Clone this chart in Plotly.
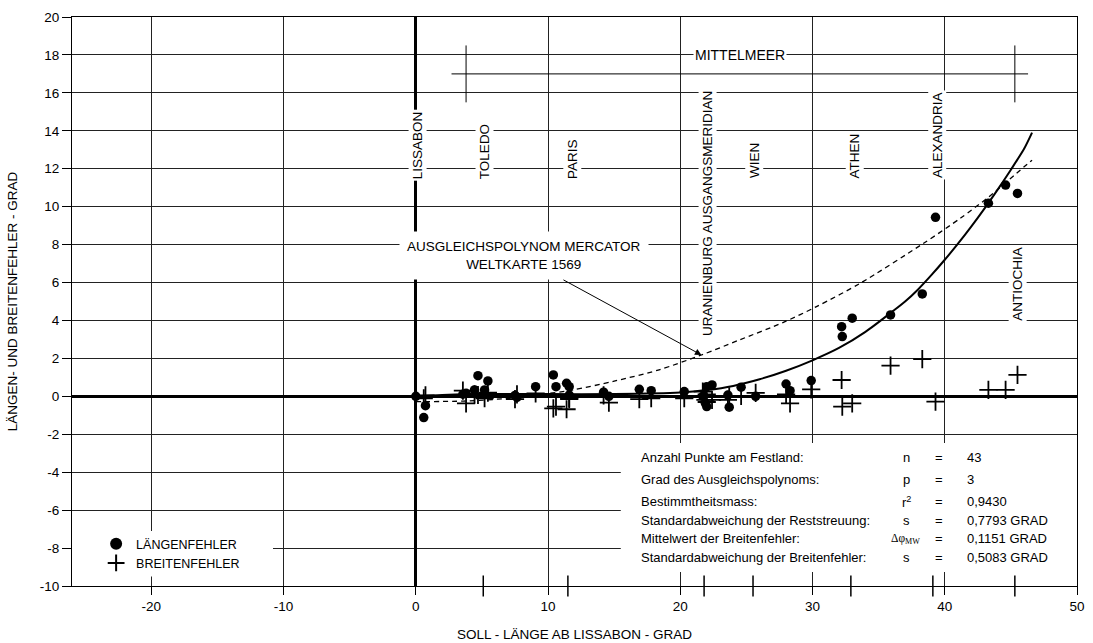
import plotly.graph_objects as go

# ---------------- data ----------------
soll_laenge = [0.0, 0.6, 0.73, 3.56, 3.8, 4.44, 4.7, 5.2, 5.45, 7.5, 7.65, 9.06,
               10.4, 10.6, 11.4, 11.6, 11.6, 14.2, 14.6, 16.9, 17.8, 20.3, 21.7,
               21.9, 22.0, 22.0, 22.4, 23.6, 23.7, 24.6, 25.7, 28.0, 28.3, 29.9,
               32.2, 32.25, 33.0, 35.9, 38.3, 39.3, 43.3, 44.6, 45.5]
laengenfehler = [0.0, -1.12, -0.49, 0.11, 0.16, 0.34, 1.09, 0.34, 0.81, 0.05, -0.05, 0.51,
                 1.13, 0.51, 0.69, 0.51, 0.07, 0.22, 0.0, 0.37, 0.30, 0.25, 0.0,
                 -0.37, -0.54, 0.51, 0.60, 0.07, -0.57, 0.48, 0.0, 0.65, 0.30, 0.83,
                 3.67, 3.15, 4.12, 4.29, 5.40, 9.44, 10.18, 11.14, 10.70]
breitenfehler = [0.0, -0.10, 0.05, 0.30, -0.37, 0.10, 0.07, -0.10, 0.20, -0.15, 0.10, 0.16,
                 -0.63, -0.54, -0.68, -0.15, -0.10, 0.05, -0.33, -0.15, -0.10, -0.10, 0.25,
                 -0.19, 0.10, -0.30, -0.19, -0.19, 0.0, 0.02, 0.18, 0.10, -0.37, 0.37,
                 0.86, -0.54, -0.37, 1.62, 1.96, -0.28, 0.34, 0.34, 1.13]

# fitted polynomial (solid) and Mercator polynomial (dashed)
fit_x = [0.0, 2.0, 5.0, 10.0, 15.0, 20.0, 22.0, 24.0, 26.0, 28.0, 30.0, 32.0, 34.0,
         36.0, 37.0, 38.0, 39.0, 40.0, 41.0, 42.0, 43.0, 44.0, 45.0, 46.0, 46.6]
fit_y = [0.0, 0.07, 0.12, 0.12, 0.12, 0.2, 0.33, 0.55, 0.9, 1.35, 1.9, 2.55, 3.4,
         4.45, 5.0, 5.65, 6.4, 7.2, 8.05, 8.95, 9.9, 10.9, 11.95, 13.05, 13.9]
merc_x = [0.0, 3.6, 7.1, 9.5, 11.9, 15.0, 18.4, 21.6, 24.5, 27.8, 30.3, 33.6,
          38.4, 41.2, 43.3, 46.0, 46.6]
merc_y = [-0.28, -0.25, -0.10, 0.10, 0.34, 0.80, 1.40, 2.18, 2.98, 3.9, 4.73, 5.96,
          8.07, 9.4, 10.5, 12.1, 12.45]

city_names = ["LISSABON", "TOLEDO", "PARIS", "URANIENBURG AUSGANGSMERIDIAN",
              "WIEN", "ATHEN", "ALEXANDRIA", "ANTIOCHIA"]
city_x = [0.0, 5.1, 11.5, 21.8, 25.5, 32.9, 39.1, 45.3]
city_label_x = [0.1, 5.2, 11.8, 22.1, 25.6, 33.2, 39.4, 45.5]
city_label_bottom = [11.35, 11.35, 11.35, 3.05, 11.4, 11.4, 11.4, 3.9]

med_label = "MITTELMEER"
med_span = [2.7, 46.3]
med_level = 17.0
med_ends = [3.8, 45.3]
med_end_range = [15.5, 18.5]

stat_labels = ["Anzahl Punkte am Festland:", "Grad des Ausgleichspolynoms:",
               "Bestimmtheitsmass:", "Standardabweichung der Reststreuung:",
               "Mittelwert der Breitenfehler:", "Standardabweichung der Breitenfehler:"]
stat_symbols = ["n", "p", "r<sup>2</sup>", "s", "Δφ<sub>MW</sub>", "s"]
stat_values = ["43", "3", "0,9430", "0,7793 GRAD", "0,1151 GRAD", "0,5083 GRAD"]
stat_rows_y = [-3.25, -4.36, -5.57, -6.57, -7.52, -8.52]

x_ticks = [-20, -10, 0, 10, 20, 30, 40, 50]
x_ticktext = ["-20", "-10", "0", "10", "20", "30", "40", "50"]
y_ticks = list(range(-10, 21, 2))
y_ticktext = [str(v) for v in y_ticks]

FONT = "Liberation Sans, Arial, sans-serif"

fig = go.Figure()

fig.add_trace(go.Scatter(x=fit_x, y=fit_y, mode="lines",
                         line=dict(color="black", width=2, shape="spline", smoothing=0.8),
                         showlegend=False, hoverinfo="skip"))
fig.add_trace(go.Scatter(x=merc_x, y=merc_y, mode="lines",
                         line=dict(color="black", width=1.3, dash="5px,4px", shape="spline", smoothing=0.8),
                         showlegend=False, hoverinfo="skip"))
fig.add_trace(go.Scatter(x=soll_laenge, y=breitenfehler, mode="markers", name="BREITENFEHLER",
                         marker=dict(symbol="cross-thin", size=13, line=dict(color="black", width=1.8),
                                     color="black")))
fig.add_trace(go.Scatter(x=soll_laenge, y=laengenfehler, mode="markers", name="LÄNGENFEHLER",
                         marker=dict(symbol="circle", size=9.5, color="black")))
# city ticks on the bottom axis
fig.add_trace(go.Scatter(x=city_x[1:], y=[-10] * (len(city_x) - 1), mode="markers",
                         marker=dict(symbol="line-ns", size=15, line=dict(color="black", width=1.5)),
                         showlegend=False, hoverinfo="skip", cliponaxis=False))

shapes = []
# white boxes behind legend and statistics
shapes.append(dict(type="rect", xref="x", yref="y", x0=-26, x1=-10.8, y0=-9.5, y1=-7.1,
                   fillcolor="white", line=dict(width=0), layer="between"))
shapes.append(dict(type="rect", xref="x", yref="y", x0=15.5, x1=50, y0=-9.26, y1=-2.46,
                   fillcolor="white", line=dict(width=0), layer="between"))
# Mittelmeer bracket
shapes.append(dict(type="line", xref="x", yref="y", x0=med_span[0], x1=med_span[1],
                   y0=med_level, y1=med_level, line=dict(color="black", width=1)))
for xe in med_ends:
    shapes.append(dict(type="line", xref="x", yref="y", x0=xe, x1=xe,
                       y0=med_end_range[0], y1=med_end_range[1], line=dict(color="black", width=1)))

ann = []
for name, xl, yb in zip(city_names, city_label_x, city_label_bottom):
    ann.append(dict(x=xl, y=yb, text=name, textangle=-90, showarrow=False, xanchor="center",
                    yanchor="bottom", bgcolor="white", borderpad=1,
                    font=dict(family=FONT, size=13.5, color="black")))
ann.append(dict(x=(med_span[0] + med_span[1]) / 2, y=18, text=med_label, showarrow=False,
                bgcolor="white", borderpad=1, font=dict(family=FONT, size=14, color="black")))
ann.append(dict(x=8.2, y=7.4, text="AUSGLEICHSPOLYNOM MERCATOR<br>WELTKARTE 1569", showarrow=False,
                bgcolor="white", borderpad=7, align="center",
                font=dict(family=FONT, size=13.5, color="black")))
ann.append(dict(x=21.6, y=2.18, ax=10.9, ay=6.24, axref="x", ayref="y", text=" ", showarrow=True,
                arrowhead=2, arrowsize=1.3, arrowwidth=1, arrowcolor="black"))
for lab, sym, val, yr in zip(stat_labels, stat_symbols, stat_values, stat_rows_y):
    ann.append(dict(x=16.85, y=yr, text=lab, showarrow=False, xanchor="left",
                    font=dict(family=FONT, size=13, color="black")))
    serif = sym.startswith("Δ")
    ann.append(dict(x=37.1 if not serif else 37.0, y=yr, text=sym, showarrow=False, xanchor="center",
                    font=dict(family="Liberation Serif, serif" if serif else FONT,
                              size=11.5 if serif else 13, color="black")))
    ann.append(dict(x=39.6, y=yr, text="=", showarrow=False, xanchor="center",
                    font=dict(family=FONT, size=13, color="black")))
    ann.append(dict(x=41.5, y=yr, text=val, showarrow=False, xanchor="left",
                    font=dict(family=FONT, size=13, color="black")))

fig.update_layout(
    width=1093, height=643,
    margin=dict(l=72, r=16, t=17, b=57, autoexpand=False),
    paper_bgcolor="white", plot_bgcolor="white",
    font=dict(family=FONT, size=13, color="black"),
    shapes=shapes, annotations=ann,
    legend=dict(x=0.024, y=0.100, xanchor="left", yanchor="top", bgcolor="rgba(0,0,0,0)",
                font=dict(family=FONT, size=12.5, color="black"), traceorder="reversed",
                tracegroupgap=0, itemsizing="constant"),
)
fig.update_xaxes(range=[-26, 50], tickvals=x_ticks, ticktext=x_ticktext, automargin=False,
                 showgrid=True, gridcolor="#222", gridwidth=1,
                 zeroline=True, zerolinecolor="black", zerolinewidth=2.5,
                 showline=True, linecolor="black", linewidth=1.2, mirror=True,
                 ticks="outside", ticklen=8, tickcolor="black",
                 tickfont=dict(family=FONT, size=13.5),
                 title=dict(text="SOLL - LÄNGE AB LISSABON - GRAD", standoff=16,
                            font=dict(family=FONT, size=13.5)))
fig.update_yaxes(range=[-10, 20], tickvals=y_ticks, ticktext=y_ticktext, automargin=False,
                 showgrid=True, gridcolor="#222", gridwidth=1,
                 zeroline=True, zerolinecolor="black", zerolinewidth=2.5,
                 showline=True, linecolor="black", linewidth=1.2, mirror=True,
                 ticks="outside", ticklen=9, tickcolor="black",
                 tickfont=dict(family=FONT, size=13.5),
                 title=dict(text="LÄNGEN- UND BREITENFEHLER - GRAD", standoff=18,
                            font=dict(family=FONT, size=13.5)))

fig.write_html("out.html", config={"displayModeBar": False},
               post_script="document.body.style.margin='0';document.body.style.overflow='hidden';")
